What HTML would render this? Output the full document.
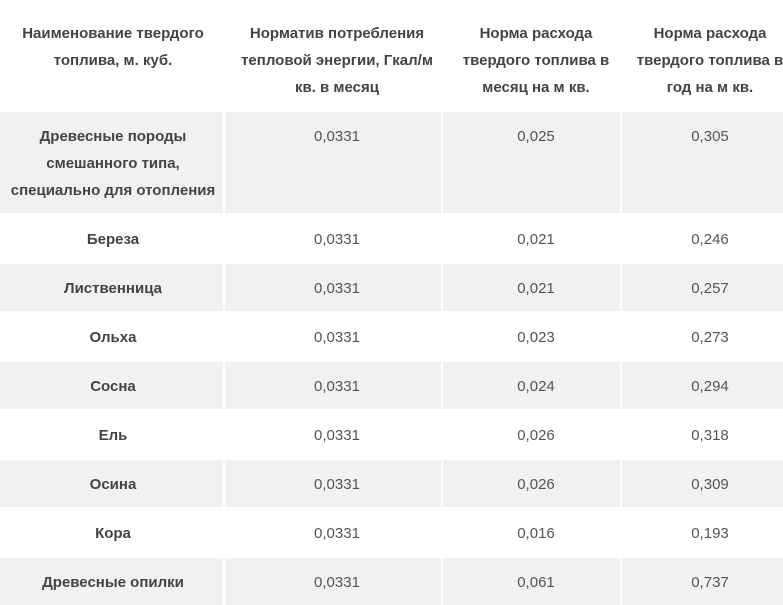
<!DOCTYPE html>
<html><head><meta charset="utf-8">
<style>
html,body{margin:0;padding:0;background:#fff;}
body{width:783px;height:601px;overflow:hidden;position:relative;font-family:"Liberation Sans","Noto Sans CJK SC",sans-serif;}
.g{position:absolute;background:#f1f1f1;}
.t{position:absolute;width:300px;text-align:center;white-space:nowrap;line-height:27px;font-size:15px;}
.h{font-weight:bold;color:#444;}
.n{font-weight:bold;color:#444;}
.v{color:#555;}
</style></head><body>
<div class="g" style="left:0;top:112px;width:223px;height:101px"></div>
<div class="g" style="left:225px;top:112px;width:216px;height:101px"></div>
<div class="g" style="left:443px;top:112px;width:177px;height:101px"></div>
<div class="g" style="left:622px;top:112px;width:177px;height:101px"></div>

<div class="g" style="left:0;top:264px;width:223px;height:47px"></div>
<div class="g" style="left:225px;top:264px;width:216px;height:47px"></div>
<div class="g" style="left:443px;top:264px;width:177px;height:47px"></div>
<div class="g" style="left:622px;top:264px;width:177px;height:47px"></div>

<div class="g" style="left:0;top:362px;width:223px;height:47px"></div>
<div class="g" style="left:225px;top:362px;width:216px;height:47px"></div>
<div class="g" style="left:443px;top:362px;width:177px;height:47px"></div>
<div class="g" style="left:622px;top:362px;width:177px;height:47px"></div>

<div class="g" style="left:0;top:460px;width:223px;height:47px"></div>
<div class="g" style="left:225px;top:460px;width:216px;height:47px"></div>
<div class="g" style="left:443px;top:460px;width:177px;height:47px"></div>
<div class="g" style="left:622px;top:460px;width:177px;height:47px"></div>

<div class="g" style="left:0;top:558px;width:223px;height:47px"></div>
<div class="g" style="left:225px;top:558px;width:216px;height:47px"></div>
<div class="g" style="left:443px;top:558px;width:177px;height:47px"></div>
<div class="g" style="left:622px;top:558px;width:177px;height:47px"></div>

<div class="t h" style="left:-37px;top:20px">Наименование твердого<br>топлива, м. куб.</div>
<div class="t h" style="left:187px;top:20px">Норматив потребления<br>тепловой энергии, Гкал/м<br>кв. в месяц</div>
<div class="t h" style="left:386px;top:20px">Норма расхода<br>твердого топлива в<br>месяц на м кв.</div>
<div class="t h" style="left:560px;top:20px">Норма расхода<br>твердого топлива в<br>год на м кв.</div>

<div class="t n" style="left:-37px;top:123px">Древесные породы<br>смешанного типа,<br>специально для отопления</div>
<div class="t v" style="left:187px;top:123px">0,0331</div>
<div class="t v" style="left:386px;top:123px">0,025</div>
<div class="t v" style="left:560px;top:123px">0,305</div>

<div class="t n" style="left:-37px;top:226px">Береза</div>
<div class="t v" style="left:187px;top:226px">0,0331</div>
<div class="t v" style="left:386px;top:226px">0,021</div>
<div class="t v" style="left:560px;top:226px">0,246</div>

<div class="t n" style="left:-37px;top:275px">Лиственница</div>
<div class="t v" style="left:187px;top:275px">0,0331</div>
<div class="t v" style="left:386px;top:275px">0,021</div>
<div class="t v" style="left:560px;top:275px">0,257</div>

<div class="t n" style="left:-37px;top:324px">Ольха</div>
<div class="t v" style="left:187px;top:324px">0,0331</div>
<div class="t v" style="left:386px;top:324px">0,023</div>
<div class="t v" style="left:560px;top:324px">0,273</div>

<div class="t n" style="left:-37px;top:373px">Сосна</div>
<div class="t v" style="left:187px;top:373px">0,0331</div>
<div class="t v" style="left:386px;top:373px">0,024</div>
<div class="t v" style="left:560px;top:373px">0,294</div>

<div class="t n" style="left:-37px;top:422px">Ель</div>
<div class="t v" style="left:187px;top:422px">0,0331</div>
<div class="t v" style="left:386px;top:422px">0,026</div>
<div class="t v" style="left:560px;top:422px">0,318</div>

<div class="t n" style="left:-37px;top:471px">Осина</div>
<div class="t v" style="left:187px;top:471px">0,0331</div>
<div class="t v" style="left:386px;top:471px">0,026</div>
<div class="t v" style="left:560px;top:471px">0,309</div>

<div class="t n" style="left:-37px;top:520px">Кора</div>
<div class="t v" style="left:187px;top:520px">0,0331</div>
<div class="t v" style="left:386px;top:520px">0,016</div>
<div class="t v" style="left:560px;top:520px">0,193</div>

<div class="t n" style="left:-37px;top:569px">Древесные опилки</div>
<div class="t v" style="left:187px;top:569px">0,0331</div>
<div class="t v" style="left:386px;top:569px">0,061</div>
<div class="t v" style="left:560px;top:569px">0,737</div>
</body></html>
